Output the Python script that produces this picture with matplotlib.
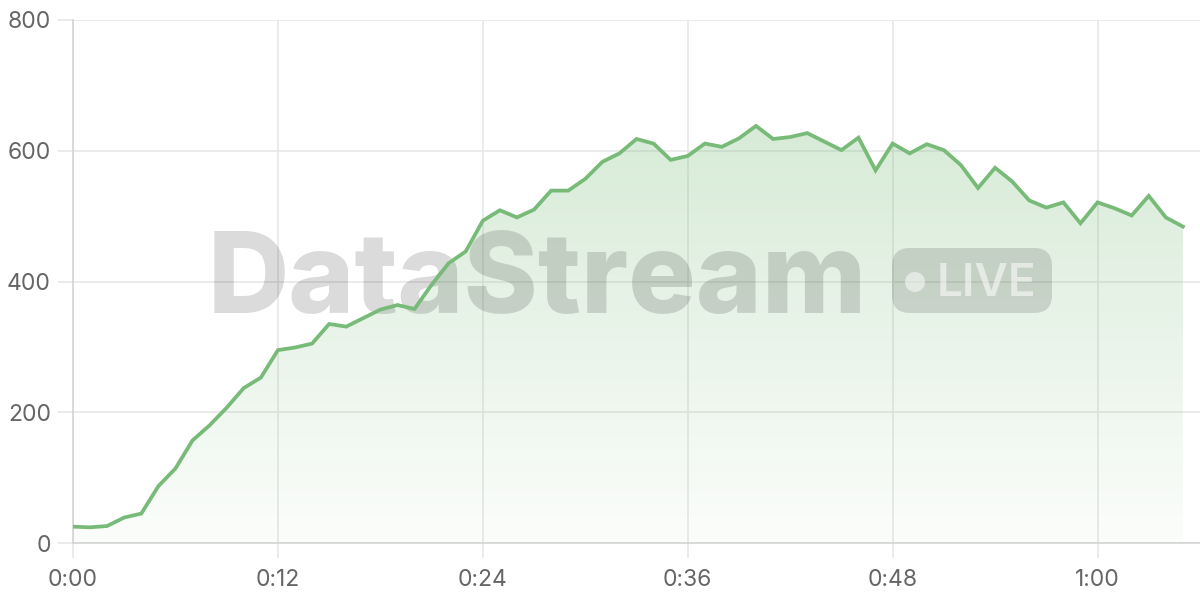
import matplotlib.pyplot as plt
import numpy as np
from matplotlib.patches import FancyBboxPatch, Circle, Polygon
from matplotlib.ticker import FuncFormatter, MultipleLocator

# one sample per second
seconds = list(range(66))
viewers = [25, 24, 26, 39, 45, 87, 114, 157, 180, 207,
           237, 253, 295, 299, 305, 335, 331, 344, 357, 364,
           358, 395, 428, 446, 493, 509, 498, 510, 539, 539,
           557, 583, 596, 618, 611, 586, 592, 611, 606, 619,
           638, 618, 621, 627, 614, 601, 620, 570, 611, 596,
           610, 601, 578, 543, 574, 553, 524, 513, 521, 489,
           521, 512, 501, 531, 498, 484]
y_ticks = [0, 200, 400, 600, 800]
x_step = 12

LINE = (0.47, 0.73, 0.47)
GRID = '#e6e6e6'
AXIS = '#d4d4d4'
LABEL = '#666666'

plt.rcParams['font.family'] = ['Inter', 'DejaVu Sans']

fig = plt.figure(figsize=(12, 6), dpi=100)
ax = fig.add_axes([73 / 1200, 57 / 600, 1127 / 1200, 523 / 600])

# gradient fill under the line
grad = np.zeros((256, 1, 4))
grad[:, 0, :3] = LINE
grad[:, 0, 3] = np.linspace(0.03, 0.36, 256)
img = ax.imshow(grad, extent=[0, 65, 0, 800], origin='lower', aspect='auto',
                zorder=1, interpolation='bilinear')
verts = [(seconds[0], 0)] + list(zip(seconds, viewers)) + [(seconds[-1], 0)]
clip = Polygon(verts, closed=True, transform=ax.transData, facecolor='none', edgecolor='none')
ax.add_patch(clip)
img.set_clip_path(clip)

ax.plot(seconds, viewers, color=LINE, lw=2.7, zorder=4, solid_joinstyle='miter')

ax.set_xlim(0, 66)
ax.set_ylim(0, 800)
ax.set_yticks(y_ticks)
ax.xaxis.set_major_locator(MultipleLocator(x_step))
ax.xaxis.set_major_formatter(FuncFormatter(lambda v, p: f"{int(v) // 60}:{int(v) % 60:02d}"))

ax.grid(True, color=GRID, lw=1.1, zorder=0)
ax.set_axisbelow(True)
for s in ['top', 'right']:
    ax.spines[s].set_visible(False)
for s in ['left', 'bottom']:
    ax.spines[s].set_color(AXIS)
    ax.spines[s].set_linewidth(1.2)
ax.tick_params(axis='both', length=11, width=1.1, color=GRID, labelcolor=LABEL, labelsize=16.5)
ax.tick_params(axis='y', pad=5)
ax.tick_params(axis='x', pad=8)

# watermark, placed in inches so it sits like the original
wm = dict(transform=fig.dpi_scale_trans, zorder=2)
ax.text(2.08, 2.87, 'DataStream', fontsize=81, fontweight='heavy', color='black', alpha=0.14,
        ha='left', va='baseline', **wm)
pill = FancyBboxPatch((8.92, 2.87), 1.60, 0.65, boxstyle='round,pad=0,rounding_size=0.18',
                      facecolor='black', alpha=0.13, edgecolor='none', **wm)
ax.add_patch(pill)
ax.add_patch(Circle((9.15, 3.18), 0.10, facecolor='white', alpha=0.5, edgecolor='none', **wm))
ax.text(9.37, 3.04, 'LIVE', fontsize=33, fontweight='semibold', color='white', alpha=0.55,
        ha='left', va='baseline', **wm)

fig.savefig('out.png', dpi=100)
